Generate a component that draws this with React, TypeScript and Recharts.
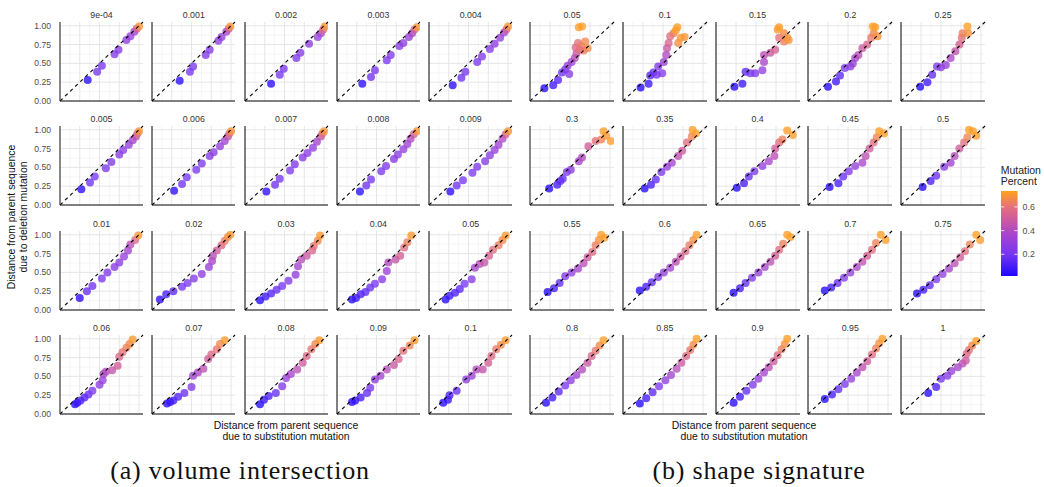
import React from "react";
import { ScatterChart, Scatter, XAxis, YAxis, ReferenceLine, ReferenceArea } from "recharts";

type Pt = [number, number, number];

const labelsA = ["9e-04", "0.001", "0.002", "0.003", "0.004", "0.005", "0.006", "0.007", "0.008", "0.009", "0.01", "0.02", "0.03", "0.04", "0.05", "0.06", "0.07", "0.08", "0.09", "0.1"];
const labelsB = ["0.05", "0.1", "0.15", "0.2", "0.25", "0.3", "0.35", "0.4", "0.45", "0.5", "0.55", "0.6", "0.65", "0.7", "0.75", "0.8", "0.85", "0.9", "0.95", "1"];

const yTicks = [0, 0.25, 0.5, 0.75, 1];
const gridMajor = [0.25, 0.5, 0.75, 1];
const gridMinor = [0.125, 0.375, 0.625, 0.875];
const legendTicks = [0.2, 0.4, 0.6];
const legendRange: [number, number] = [0.017, 0.734];
const colorStops: [number, string][] = [
  [0.017, "#1f06ff"],
  [0.2, "#7636f1"],
  [0.37, "#a845cb"],
  [0.5, "#cd5c9c"],
  [0.6, "#e4727a"],
  [0.734, "#ffa21c"],
];

// (a) volume intersection
const a_9e04: Pt[] = [[.35,.28,.04],[.47,.39,.2],[.53,.47,.21],[.69,.62,.24],[.74,.68,.25],[.84,.81,.28],[.89,.86,.31],[.94,.92,.34],[.97,.96,.5],[1.0,.99,.7]];
const a_001: Pt[] = [[.35,.27,.04],[.48,.39,.2],[.52,.46,.21],[.68,.61,.24],[.73,.68,.25],[.84,.80,.28],[.88,.85,.3],[.94,.92,.36],[.97,.96,.5],[.99,.99,.7]];
const a_002: Pt[] = [[.33,.23,.04],[.44,.35,.2],[.49,.43,.21],[.65,.57,.23],[.70,.64,.25],[.81,.76,.27],[.92,.85,.3],[.96,.9,.38],[.99,.95,.55],[1.01,.99,.7]];
const a_003: Pt[] = [[.32,.23,.04],[.43,.32,.19],[.48,.41,.2],[.63,.54,.22],[.68,.61,.24],[.79,.73,.26],[.84,.77,.28],[.91,.85,.3],[.95,.9,.38],[.98,.95,.5],[1.01,.98,.7]];
const a_004: Pt[] = [[.30,.21,.04],[.41,.31,.19],[.46,.39,.2],[.61,.52,.22],[.67,.59,.24],[.77,.69,.26],[.83,.76,.28],[.9,.84,.3],[.95,.91,.36],[.98,.95,.5],[1.0,.99,.7]];
const a_005: Pt[] = [[.27,.21,.04],[.38,.30,.19],[.44,.38,.2],[.58,.49,.22],[.65,.57,.23],[.75,.67,.25],[.80,.73,.27],[.87,.80,.3],[.92,.86,.35],[.96,.91,.45],[.98,.95,.58],[1.0,.98,.7]];
const a_006: Pt[] = [[.28,.19,.04],[.38,.28,.19],[.44,.37,.2],[.56,.47,.22],[.63,.55,.23],[.73,.65,.25],[.78,.70,.27],[.86,.78,.3],[.92,.85,.34],[.96,.91,.45],[.98,.95,.58],[1.0,.98,.7]];
const a_007: Pt[] = [[.27,.18,.04],[.38,.27,.19],[.44,.35,.2],[.57,.46,.22],[.63,.54,.23],[.73,.63,.25],[.79,.69,.27],[.86,.76,.3],[.91,.84,.36],[.96,.91,.46],[.98,.95,.58],[1.0,.98,.7]];
const a_008: Pt[] = [[.29,.18,.04],[.37,.26,.19],[.43,.34,.2],[.56,.45,.22],[.62,.52,.23],[.72,.61,.25],[.77,.67,.27],[.84,.74,.3],[.89,.81,.34],[.93,.88,.4],[.97,.94,.5],[1.01,.98,.7]];
const a_009: Pt[] = [[.27,.18,.04],[.35,.26,.19],[.43,.33,.2],[.55,.43,.22],[.61,.51,.23],[.71,.58,.25],[.77,.66,.27],[.83,.73,.3],[.88,.80,.33],[.93,.88,.4],[.97,.94,.52],[1.0,.98,.7]];
const a_01: Pt[] = [[.25,.16,.04],[.34,.25,.17],[.41,.32,.19],[.53,.42,.21],[.60,.50,.23],[.69,.57,.25],[.75,.63,.27],[.81,.71,.3],[.86,.79,.35],[.89,.87,.42],[.95,.93,.55],[.99,.99,.7]];
const a_02: Pt[] = [[.1,.14,.04],[.18,.21,.1],[.27,.25,.15],[.38,.31,.2],[.45,.36,.22],[.53,.42,.25],[.63,.48,.28],[.72,.57,.32],[.76,.65,.37],[.77,.72,.42],[.82,.79,.5],[.88,.86,.56],[.92,.92,.62],[.96,.97,.68],[.99,1.0,.7]];
const a_03: Pt[] = [[.19,.13,.03],[.26,.18,.08],[.33,.22,.13],[.40,.27,.17],[.47,.32,.2],[.55,.39,.24],[.64,.47,.28],[.67,.58,.35],[.71,.67,.42],[.78,.72,.48],[.85,.79,.55],[.87,.85,.6],[.92,.92,.66],[.95,.99,.71]];
const a_04: Pt[] = [[.19,.14,.03],[.24,.16,.07],[.30,.21,.11],[.36,.24,.15],[.42,.30,.18],[.48,.35,.21],[.57,.41,.25],[.63,.52,.32],[.65,.63,.4],[.74,.67,.46],[.80,.72,.52],[.85,.83,.58],[.89,.90,.64],[.94,.99,.71]];
const a_05: Pt[] = [[.21,.14,.03],[.26,.19,.07],[.33,.23,.11],[.39,.28,.15],[.45,.35,.2],[.54,.41,.25],[.58,.56,.36],[.64,.61,.42],[.70,.63,.47],[.76,.72,.53],[.81,.80,.58],[.88,.86,.63],[.93,.93,.67],[.97,.99,.71]];
const a_06: Pt[] = [[.19,.13,.03],[.22,.15,.06],[.26,.18,.1],[.31,.22,.13],[.36,.26,.17],[.41,.31,.21],[.50,.39,.27],[.54,.45,.31],[.55,.53,.37],[.58,.56,.41],[.66,.58,.46],[.73,.64,.51],[.75,.76,.56],[.79,.82,.6],[.84,.88,.64],[.88,.93,.67],[.92,.99,.71]];
const a_07: Pt[] = [[.19,.14,.03],[.23,.16,.06],[.27,.18,.09],[.33,.23,.13],[.41,.28,.18],[.50,.36,.24],[.52,.51,.33],[.58,.55,.38],[.65,.60,.44],[.71,.73,.51],[.75,.79,.56],[.82,.86,.61],[.86,.93,.66],[.92,.98,.71]];
const a_08: Pt[] = [[.19,.13,.03],[.24,.19,.07],[.30,.24,.12],[.39,.28,.17],[.47,.37,.24],[.52,.48,.31],[.58,.53,.37],[.66,.59,.44],[.73,.68,.5],[.78,.77,.56],[.84,.86,.61],[.89,.93,.66],[.94,.98,.71]];
const a_09: Pt[] = [[.19,.16,.03],[.23,.18,.06],[.30,.22,.1],[.38,.28,.16],[.42,.35,.21],[.48,.46,.29],[.55,.51,.35],[.63,.59,.42],[.72,.65,.48],[.78,.73,.54],[.84,.84,.6],[.92,.91,.66],[.98,.98,.71]];
const a_1: Pt[] = [[.18,.15,.03],[.24,.19,.07],[.26,.25,.11],[.35,.31,.17],[.47,.46,.28],[.54,.51,.34],[.60,.59,.41],[.68,.59,.46],[.75,.68,.52],[.79,.77,.57],[.85,.86,.62],[.91,.92,.67],[.97,.98,.71]];

// (b) shape signature
const b_05: Pt[] = [[.18,.17,.03],[.29,.21,.08],[.35,.28,.13],[.40,.38,.19],[.44,.42,.23],[.49,.36,.26],[.47,.47,.3],[.52,.52,.35],[.56,.57,.41],[.58,.63,.47],[.57,.71,.55],[.60,.77,.6],[.64,.73,.63],[.69,.79,.66],[.72,.70,.68],[.67,.67,.64],[.62,.68,.6],[.61,.98,.72],[.65,.99,.72]];
const b_1: Pt[] = [[.22,.18,.03],[.32,.23,.08],[.34,.34,.14],[.38,.38,.18],[.44,.46,.23],[.49,.37,.25],[.42,.35,.21],[.51,.52,.33],[.54,.61,.4],[.55,.70,.47],[.57,.77,.54],[.59,.86,.58],[.63,.90,.63],[.69,.77,.68],[.72,.84,.7],[.77,.85,.7],[.68,.98,.72],[.66,.94,.72]];
const b_15: Pt[] = [[.23,.19,.03],[.33,.23,.08],[.37,.39,.15],[.43,.37,.2],[.49,.37,.24],[.58,.41,.3],[.60,.52,.37],[.60,.61,.43],[.68,.64,.48],[.74,.68,.53],[.79,.84,.6],[.85,.79,.64],[.89,.84,.68],[.85,.90,.67],[.91,.81,.7],[.77,.95,.71],[.79,.98,.72]];
const b_2: Pt[] = [[.25,.19,.03],[.35,.26,.09],[.40,.34,.15],[.46,.44,.22],[.53,.46,.27],[.56,.50,.31],[.59,.57,.37],[.63,.61,.42],[.68,.70,.49],[.74,.75,.55],[.79,.84,.62],[.82,.90,.66],[.87,.86,.69],[.81,.99,.72],[.84,.98,.72]];
const b_25: Pt[] = [[.24,.19,.03],[.33,.25,.09],[.39,.35,.16],[.45,.46,.23],[.50,.45,.27],[.56,.48,.31],[.62,.57,.38],[.68,.66,.45],[.73,.75,.52],[.76,.84,.59],[.77,.90,.64],[.84,.90,.69],[.83,.99,.72]];
const b_3: Pt[] = [[.24,.22,.03],[.34,.27,.1],[.38,.32,.14],[.41,.35,.17],[.46,.44,.23],[.51,.47,.27],[.61,.58,.36],[.65,.63,.41],[.73,.78,.51],[.82,.85,.59],[.89,.87,.65],[.95,.92,.7],[.92,.98,.72],[1.01,.85,.72]];
const b_35: Pt[] = [[.27,.22,.03],[.35,.27,.1],[.41,.34,.16],[.48,.44,.23],[.55,.51,.3],[.61,.56,.36],[.69,.65,.44],[.74,.72,.5],[.80,.83,.58],[.86,.91,.65],[.87,1.0,.72],[.91,.95,.72]];
const b_4: Pt[] = [[.26,.23,.03],[.35,.29,.1],[.41,.38,.17],[.48,.45,.23],[.58,.52,.3],[.66,.58,.37],[.73,.65,.44],[.74,.75,.51],[.79,.83,.58],[.83,.87,.64],[.89,.99,.72],[.96,.93,.72]];
const b_45: Pt[] = [[.27,.24,.03],[.38,.29,.1],[.44,.38,.17],[.51,.45,.24],[.59,.52,.31],[.68,.56,.37],[.72,.65,.44],[.77,.75,.51],[.82,.83,.58],[.86,.90,.65],[.89,.98,.72],[.95,.95,.72]];
const b_5: Pt[] = [[.27,.24,.03],[.37,.32,.11],[.44,.39,.18],[.54,.51,.27],[.62,.56,.34],[.67,.65,.42],[.73,.75,.5],[.79,.83,.58],[.83,.90,.65],[.85,1.0,.72],[.94,.92,.72],[.90,.98,.72]];
const b_55: Pt[] = [[.22,.24,.03],[.30,.29,.1],[.37,.36,.16],[.44,.45,.23],[.52,.50,.3],[.60,.55,.36],[.67,.62,.43],[.72,.70,.5],[.78,.77,.57],[.82,.86,.63],[.86,.93,.68],[.89,1.0,.72],[.93,.96,.72]];
const b_6: Pt[] = [[.21,.26,.03],[.29,.31,.1],[.36,.37,.16],[.44,.44,.23],[.51,.50,.3],[.59,.56,.36],[.66,.64,.43],[.72,.71,.5],[.78,.78,.57],[.83,.86,.63],[.88,.93,.68],[.92,1.0,.72]];
const b_65: Pt[] = [[.22,.23,.03],[.30,.29,.1],[.37,.36,.17],[.45,.43,.24],[.53,.50,.31],[.61,.57,.37],[.68,.64,.44],[.74,.72,.51],[.79,.80,.58],[.84,.88,.64],[.89,1.0,.72],[.93,.97,.72]];
const b_7: Pt[] = [[.21,.26,.03],[.29,.30,.1],[.37,.36,.17],[.45,.43,.24],[.53,.50,.31],[.61,.57,.38],[.68,.64,.45],[.74,.72,.52],[.80,.80,.59],[.85,.89,.65],[.91,1.0,.72],[.97,.93,.72]];
const b_75: Pt[] = [[.20,.22,.03],[.28,.27,.1],[.36,.33,.16],[.44,.41,.23],[.52,.48,.3],[.60,.55,.37],[.67,.62,.44],[.74,.70,.51],[.80,.78,.58],[.86,.87,.65],[.94,1.0,.72],[.99,.93,.72]];
const b_8: Pt[] = [[.20,.15,.03],[.28,.22,.09],[.36,.30,.15],[.44,.38,.22],[.51,.45,.28],[.58,.52,.34],[.65,.59,.41],[.72,.68,.48],[.77,.77,.55],[.82,.84,.61],[.87,.91,.67],[.92,.98,.72]];
const b_85: Pt[] = [[.21,.14,.03],[.29,.21,.09],[.37,.29,.15],[.45,.37,.22],[.53,.45,.29],[.60,.52,.35],[.67,.60,.42],[.73,.68,.49],[.79,.77,.56],[.84,.85,.62],[.88,.92,.67],[.92,1.0,.72]];
const b_9: Pt[] = [[.22,.15,.03],[.30,.23,.09],[.38,.31,.16],[.46,.39,.23],[.53,.47,.3],[.60,.55,.36],[.66,.62,.43],[.72,.70,.5],[.77,.78,.57],[.82,.86,.63],[.86,.93,.68],[.89,1.0,.72]];
const b_95: Pt[] = [[.21,.20,.03],[.30,.26,.1],[.38,.33,.16],[.46,.40,.23],[.54,.47,.3],[.61,.55,.37],[.68,.62,.44],[.74,.70,.51],[.80,.79,.58],[.85,.87,.64],[.89,.94,.69],[.93,1.0,.72]];
const b_10: Pt[] = [[.34,.28,.03],[.44,.36,.11],[.50,.47,.2],[.58,.51,.26],[.63,.57,.31],[.71,.62,.37],[.77,.67,.43],[.81,.71,.48],[.82,.80,.55],[.85,.85,.6],[.89,.91,.66],[.94,.97,.72]];

const pointsA = [a_9e04, a_001, a_002, a_003, a_004, a_005, a_006, a_007, a_008, a_009, a_01, a_02, a_03, a_04, a_05, a_06, a_07, a_08, a_09, a_1];
const pointsB = [b_05, b_1, b_15, b_2, b_25, b_3, b_35, b_4, b_45, b_5, b_55, b_6, b_65, b_7, b_75, b_8, b_85, b_9, b_95, b_10];

const FONT = "'Liberation Sans', Arial, Helvetica, sans-serif";
const DOMAIN: [number, number] = [0, 1.05];
const PLOT_H = 79;
const ROW_Y0 = 101.2;
const ROW_STEP = 104.15;

function hexToRgb(h: string): number[] {
  return [parseInt(h.slice(1, 3), 16), parseInt(h.slice(3, 5), 16), parseInt(h.slice(5, 7), 16)];
}
function colorFor(m: number): string {
  const s = colorStops;
  if (m <= s[0][0]) return s[0][1];
  for (let i = 0; i < s.length - 1; i++) {
    if (m <= s[i + 1][0]) {
      const t = (m - s[i][0]) / (s[i + 1][0] - s[i][0]);
      const a = hexToRgb(s[i][1]);
      const b = hexToRgb(s[i + 1][1]);
      const c = a.map((v, k) => Math.round(v + (b[k] - v) * t));
      return `rgb(${c[0]},${c[1]},${c[2]})`;
    }
  }
  return s[s.length - 1][1];
}

const dot = (p: any) => (
  <circle cx={p.cx} cy={p.cy} r={4.0} fill={colorFor(p.payload.m)} fillOpacity={0.78} />
);

type PanelProps = { label: string; pts: Pt[]; left: number; bottom: number; plotW: number; showY: boolean; firstCol: boolean };

function Panel({ label, pts, left, bottom, plotW, showY, firstCol }: PanelProps) {
  const data = pts.map(([x, y, m]) => ({ x, y, m }));
  const M = { top: 6, right: 4, bottom: 8, left: 4 };
  const yW = showY ? 44 : 0;
  const width = plotW + yW + M.left + M.right;
  const height = PLOT_H + M.top + M.bottom;
  const top = bottom - PLOT_H;
  return (
    <>
      <div style={{ position: "absolute", left: left - yW - M.left, top: top - M.top }}>
        <ScatterChart width={width} height={height} margin={M} style={{ overflow: "visible" }}>
          <XAxis type="number" dataKey="x" domain={DOMAIN} allowDataOverflow hide />
          <YAxis
            type="number"
            dataKey="y"
            domain={DOMAIN}
            allowDataOverflow
            hide={!showY}
            width={yW}
            ticks={yTicks}
            interval={0}
            tickFormatter={(v: number) => v.toFixed(2)}
            axisLine={false}
            tickLine={false}
            tickSize={0}
            tickMargin={9}
            tick={{ fontSize: 8.6, fill: "#4d4d4d", fontFamily: FONT }}
          />
          {gridMinor.map((v) => (
            <ReferenceLine key={"mx" + v} x={v} stroke="#f0f0f0" strokeWidth={0.7} />
          ))}
          {gridMinor.map((v) => (
            <ReferenceLine key={"my" + v} y={v} stroke="#f0f0f0" strokeWidth={0.7} />
          ))}
          {gridMajor.map((v) => (
            <ReferenceLine key={"Mx" + v} x={v} stroke="#e6e6e6" strokeWidth={1} />
          ))}
          {gridMajor.map((v) => (
            <ReferenceLine key={"My" + v} y={v} stroke="#e6e6e6" strokeWidth={1} />
          ))}
          <Scatter data={data} isAnimationActive={false} shape={dot} />
          <ReferenceLine
            segment={[{ x: 0, y: 0 }, { x: 1.05, y: 1.05 }]}
            stroke="#000"
            strokeWidth={1.1}
            strokeDasharray="3.5 3.5"
            zIndex={900}
          />
          <ReferenceLine x={0} stroke={firstCol ? "#555" : "#000"} strokeWidth={firstCol ? 1.4 : 1} zIndex={900} />
          <ReferenceLine y={0} stroke="#000" strokeWidth={1} zIndex={900} />
        </ScatterChart>
      </div>
      <div
        style={{
          position: "absolute",
          left: left,
          width: plotW,
          top: top - 13,
          height: 12,
          lineHeight: "12px",
          textAlign: "center",
          fontSize: 8.8,
          color: "#333",
          fontFamily: FONT,
          whiteSpace: "nowrap",
        }}
      >
        {label}
      </div>
    </>
  );
}

function Legend() {
  const M = { top: 6, right: 3, bottom: 6, left: 3 };
  const barW = 16.6;
  const barH = 85;
  const axisW = 28;
  const span = legendRange[1] - legendRange[0];
  return (
    <>
      <div
        style={{
          position: "absolute",
          left: 1000.7,
          top: 164.5,
          fontSize: 10.5,
          lineHeight: "11px",
          fontFamily: FONT,
          color: "#222",
          whiteSpace: "nowrap",
        }}
      >
        Mutation
        <br />
        Percent
      </div>
      <div style={{ position: "absolute", left: 1000.7 - M.left, top: 191 - M.top }}>
        <ScatterChart width={barW + axisW + M.left + M.right} height={barH + M.top + M.bottom} margin={M}>
          <defs>
            <linearGradient id="mpGrad" x1="0" y1="1" x2="0" y2="0">
              {colorStops.map(([v, c]) => (
                <stop key={v} offset={`${((v - legendRange[0]) / span) * 100}%`} stopColor={c} />
              ))}
            </linearGradient>
          </defs>
          <XAxis type="number" dataKey="x" domain={[0, 1]} allowDataOverflow hide />
          <YAxis
            type="number"
            dataKey="y"
            orientation="right"
            domain={legendRange}
            allowDataOverflow
            ticks={legendTicks}
            interval={0}
            width={axisW}
            axisLine={false}
            tickLine={false}
            tickSize={0}
            tickMargin={5}
            tickFormatter={(v: number) => String(v)}
            tick={{ fontSize: 8.8, fill: "#4d4d4d", fontFamily: FONT, textAnchor: "start" }}
          />
          <ReferenceArea x1={0} x2={1} y1={legendRange[0]} y2={legendRange[1]} fill="url(#mpGrad)" fillOpacity={1} stroke="none" />
          {legendTicks.map((v) => (
            <ReferenceLine key={v} y={v} stroke="#fff" strokeWidth={0.8} strokeDasharray={`3.3 ${barW - 6.6} 3.3 40`} />
          ))}
        </ScatterChart>
      </div>
    </>
  );
}

export default function App() {
  const panels: React.ReactNode[] = [];
  for (let r = 0; r < 4; r++) {
    for (let c = 0; c < 5; c++) {
      const i = r * 5 + c;
      const bottom = ROW_Y0 + r * ROW_STEP;
      panels.push(
        <Panel
          key={"a" + i}
          label={labelsA[i]}
          pts={pointsA[i]}
          left={60 + c * 92.3}
          bottom={bottom}
          plotW={83}
          showY={c === 0}
          firstCol={c === 0}
        />
      );
      panels.push(
        <Panel
          key={"b" + i}
          label={labelsB[i]}
          pts={pointsB[i]}
          left={530 + c * 92.75}
          bottom={bottom}
          plotW={84}
          showY={false}
          firstCol={c === 0}
        />
      );
    }
  }
  const titleStyle: React.CSSProperties = {
    position: "absolute",
    fontSize: 10.4,
    lineHeight: "11.8px",
    fontFamily: FONT,
    color: "#111",
    textAlign: "center",
    whiteSpace: "nowrap",
  };
  const capStyle: React.CSSProperties = {
    position: "absolute",
    fontFamily: "'Liberation Serif', 'DejaVu Serif', 'Times New Roman', serif",
    fontSize: 26,
    letterSpacing: 0.8,
    lineHeight: "30px",
    color: "#111",
    textAlign: "center",
    whiteSpace: "nowrap",
  };
  return (
    <div style={{ position: "absolute", left: 0, top: 0, width: 1044, height: 487, background: "#fff", overflow: "hidden" }}>
      {panels}
      <div
        style={{
          ...titleStyle,
          left: 18 - 150,
          top: 217 - 12,
          width: 300,
          height: 24,
          transform: "rotate(-90deg)",
        }}
      >
        Distance from parent sequence
        <br />
        due to deletion mutation
      </div>
      <div style={{ ...titleStyle, left: 286 - 150, width: 300, top: 419.5 }}>
        Distance from parent sequence
        <br />
        due to substitution mutation
      </div>
      <div style={{ ...titleStyle, left: 744 - 150, width: 300, top: 419.5 }}>
        Distance from parent sequence
        <br />
        due to substitution mutation
      </div>
      <Legend />
      <div style={{ ...capStyle, left: 240 - 200, width: 400, top: 456 }}>(a) volume intersection</div>
      <div style={{ ...capStyle, left: 759 - 200, width: 400, top: 456 }}>(b) shape signature</div>
    </div>
  );
}
